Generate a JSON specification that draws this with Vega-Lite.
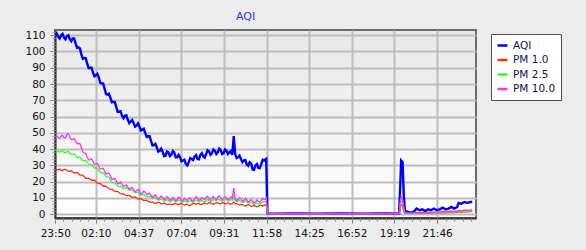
{
  "$schema": "https://vega.github.io/schema/vega-lite/v6.json",
  "width": 421,
  "height": 188,
  "autosize": "none",
  "padding": {"left": 55, "top": 30, "right": 110, "bottom": 32},
  "background": "#ececec",
  "title": {"text": "AQI", "color": "#3030ff", "fontSize": 11, "font": "DejaVu Sans", "fontWeight": "normal", "anchor": "middle", "dx": -20, "offset": 8},
  "config": {
    "font": "DejaVu Sans",
    "view": {"stroke": "#6b6b6b", "strokeWidth": 2, "fill": {"gradient": "linear", "x1": 0, "y1": 0, "x2": 0, "y2": 1, "stops": [{"offset": 0, "color": "#e8e8e8"}, {"offset": 0.6, "color": "#f4f4f4"}, {"offset": 1, "color": "#ffffff"}]}}
  },
  "data": {"values": [
    {"t":0,"aqi":110,"pm1":27.5,"pm25":39,"pm10":47.5},
    {"t":10,"aqi":109,"pm1":27.5,"pm25":38.5,"pm10":47},
    {"t":20,"aqi":110,"pm1":27,"pm25":39,"pm10":48},
    {"t":30,"aqi":108.5,"pm1":27.5,"pm25":38,"pm10":47},
    {"t":40,"aqi":109.5,"pm1":27,"pm25":38.5,"pm10":49},
    {"t":50,"aqi":107.5,"pm1":26.5,"pm25":37.5,"pm10":47.5},
    {"t":60,"aqi":108,"pm1":26,"pm25":37,"pm10":46},
    {"t":70,"aqi":105,"pm1":25.5,"pm25":36,"pm10":45},
    {"t":80,"aqi":102.5,"pm1":25,"pm25":35,"pm10":43.5},
    {"t":90,"aqi":98,"pm1":24,"pm25":34,"pm10":41},
    {"t":100,"aqi":96,"pm1":23,"pm25":33,"pm10":37.5},
    {"t":110,"aqi":92.5,"pm1":22,"pm25":32,"pm10":35},
    {"t":120,"aqi":90,"pm1":21.5,"pm25":30.5,"pm10":33.5},
    {"t":130,"aqi":87,"pm1":21,"pm25":29.5,"pm10":32.5},
    {"t":140,"aqi":85.5,"pm1":20,"pm25":28.5,"pm10":31},
    {"t":150,"aqi":84,"pm1":19,"pm25":27,"pm10":29.5},
    {"t":160,"aqi":80.5,"pm1":18,"pm25":25.5,"pm10":28},
    {"t":170,"aqi":77,"pm1":17.2,"pm25":24.5,"pm10":26.5},
    {"t":180,"aqi":73.5,"pm1":16.5,"pm25":23,"pm10":25},
    {"t":190,"aqi":71.5,"pm1":15.5,"pm25":21,"pm10":23.5},
    {"t":200,"aqi":69,"pm1":14.8,"pm25":19.5,"pm10":21.5},
    {"t":210,"aqi":66,"pm1":14,"pm25":18.5,"pm10":20.5},
    {"t":220,"aqi":63,"pm1":13.2,"pm25":17,"pm10":19},
    {"t":230,"aqi":60.5,"pm1":12.5,"pm25":16.5,"pm10":18.5},
    {"t":240,"aqi":60.5,"pm1":12,"pm25":16,"pm10":17.5},
    {"t":250,"aqi":58,"pm1":11.5,"pm25":15.5,"pm10":16.5},
    {"t":260,"aqi":57,"pm1":11,"pm25":15,"pm10":16},
    {"t":270,"aqi":56,"pm1":10.5,"pm25":14,"pm10":15},
    {"t":280,"aqi":54.5,"pm1":10,"pm25":13.5,"pm10":14.5},
    {"t":290,"aqi":54,"pm1":9.5,"pm25":12.5,"pm10":14},
    {"t":300,"aqi":52,"pm1":9,"pm25":12,"pm10":13},
    {"t":310,"aqi":50,"pm1":8.5,"pm25":11.5,"pm10":13.5},
    {"t":320,"aqi":48,"pm1":8,"pm25":11,"pm10":12.5},
    {"t":330,"aqi":45,"pm1":7.5,"pm25":10.5,"pm10":11.5},
    {"t":340,"aqi":42.5,"pm1":7,"pm25":10,"pm10":11},
    {"t":350,"aqi":41,"pm1":7,"pm25":9.5,"pm10":10.5},
    {"t":360,"aqi":39,"pm1":7,"pm25":9,"pm10":10},
    {"t":370,"aqi":38.5,"pm1":6.5,"pm25":9,"pm10":10.5},
    {"t":380,"aqi":36,"pm1":6.5,"pm25":8.5,"pm10":9.5},
    {"t":390,"aqi":38,"pm1":6,"pm25":8.5,"pm10":10},
    {"t":400,"aqi":36.5,"pm1":6,"pm25":8,"pm10":9},
    {"t":410,"aqi":38,"pm1":6.5,"pm25":8.5,"pm10":9.5},
    {"t":420,"aqi":35,"pm1":6,"pm25":8,"pm10":9},
    {"t":430,"aqi":35,"pm1":6.5,"pm25":8.5,"pm10":10},
    {"t":440,"aqi":33,"pm1":6,"pm25":7.5,"pm10":8.5},
    {"t":450,"aqi":31,"pm1":6,"pm25":8,"pm10":9},
    {"t":460,"aqi":32,"pm1":5.5,"pm25":8,"pm10":9.5},
    {"t":470,"aqi":34,"pm1":6,"pm25":7.5,"pm10":8.5},
    {"t":480,"aqi":35.5,"pm1":6.5,"pm25":8,"pm10":9.5},
    {"t":490,"aqi":34,"pm1":6.5,"pm25":8.5,"pm10":10},
    {"t":500,"aqi":36.5,"pm1":6,"pm25":8,"pm10":9},
    {"t":510,"aqi":35.5,"pm1":6.5,"pm25":8,"pm10":9.5},
    {"t":520,"aqi":37,"pm1":6.5,"pm25":8.5,"pm10":10.5},
    {"t":530,"aqi":38.5,"pm1":7,"pm25":8.5,"pm10":9.5},
    {"t":540,"aqi":37.5,"pm1":6.5,"pm25":8.5,"pm10":10},
    {"t":550,"aqi":39,"pm1":6.5,"pm25":8.5,"pm10":9.5},
    {"t":560,"aqi":38,"pm1":7,"pm25":9,"pm10":10.5},
    {"t":570,"aqi":39.5,"pm1":6.5,"pm25":8.5,"pm10":10},
    {"t":580,"aqi":37.5,"pm1":7,"pm25":8.5,"pm10":9.5},
    {"t":590,"aqi":39,"pm1":6.5,"pm25":9,"pm10":10},
    {"t":600,"aqi":38,"pm1":6.5,"pm25":8.5,"pm10":9.5},
    {"t":610,"aqi":36.5,"pm1":6.5,"pm25":8.5,"pm10":10},
    {"t":615,"aqi":48,"pm1":7.5,"pm25":11,"pm10":16},
    {"t":620,"aqi":37,"pm1":6.5,"pm25":8.5,"pm10":9.5},
    {"t":630,"aqi":35,"pm1":6,"pm25":8,"pm10":9},
    {"t":640,"aqi":34,"pm1":6,"pm25":8,"pm10":9.5},
    {"t":650,"aqi":33,"pm1":5.5,"pm25":7.5,"pm10":8.5},
    {"t":660,"aqi":30.5,"pm1":5.5,"pm25":7.5,"pm10":9},
    {"t":670,"aqi":32,"pm1":5.5,"pm25":7,"pm10":8},
    {"t":680,"aqi":27.5,"pm1":5,"pm25":6.5,"pm10":8},
    {"t":690,"aqi":30,"pm1":5,"pm25":6.5,"pm10":7.5},
    {"t":700,"aqi":28.5,"pm1":5,"pm25":6.5,"pm10":8},
    {"t":710,"aqi":31,"pm1":5.5,"pm25":7,"pm10":8.5},
    {"t":720,"aqi":33,"pm1":5.5,"pm25":7.5,"pm10":9},
    {"t":727,"aqi":34,"pm1":6,"pm25":8,"pm10":10},
    {"t":731,"aqi":0.5,"pm1":0.4,"pm25":0.4,"pm10":0.5},
    {"t":760,"aqi":0.4,"pm1":0.3,"pm25":0.3,"pm10":0.4},
    {"t":820,"aqi":0.5,"pm1":0.3,"pm25":0.4,"pm10":0.4},
    {"t":900,"aqi":0.4,"pm1":0.3,"pm25":0.3,"pm10":0.4},
    {"t":980,"aqi":0.5,"pm1":0.3,"pm25":0.4,"pm10":0.4},
    {"t":1060,"aqi":0.4,"pm1":0.3,"pm25":0.3,"pm10":0.4},
    {"t":1140,"aqi":0.5,"pm1":0.3,"pm25":0.4,"pm10":0.4},
    {"t":1185,"aqi":0.4,"pm1":0.3,"pm25":0.4,"pm10":0.4},
    {"t":1189,"aqi":18,"pm1":4,"pm25":6,"pm10":8},
    {"t":1192,"aqi":33,"pm1":6,"pm25":8,"pm10":11},
    {"t":1197,"aqi":32,"pm1":5,"pm25":7,"pm10":9},
    {"t":1201,"aqi":12,"pm1":2,"pm25":3,"pm10":4},
    {"t":1205,"aqi":2,"pm1":0.6,"pm25":0.8,"pm10":1},
    {"t":1215,"aqi":1.5,"pm1":0.5,"pm25":0.6,"pm10":0.8},
    {"t":1225,"aqi":1,"pm1":0.5,"pm25":0.6,"pm10":0.7},
    {"t":1235,"aqi":1.5,"pm1":0.5,"pm25":0.6,"pm10":0.8},
    {"t":1245,"aqi":3.5,"pm1":0.6,"pm25":0.8,"pm10":1},
    {"t":1255,"aqi":2.5,"pm1":0.6,"pm25":0.8,"pm10":1},
    {"t":1265,"aqi":3,"pm1":0.7,"pm25":0.9,"pm10":1.2},
    {"t":1275,"aqi":2,"pm1":0.6,"pm25":0.8,"pm10":1},
    {"t":1285,"aqi":3,"pm1":0.7,"pm25":1,"pm10":1.3},
    {"t":1295,"aqi":2.5,"pm1":0.7,"pm25":1,"pm10":1.2},
    {"t":1305,"aqi":3.5,"pm1":0.8,"pm25":1.1,"pm10":1.4},
    {"t":1315,"aqi":2.5,"pm1":0.8,"pm25":1,"pm10":1.3},
    {"t":1325,"aqi":3,"pm1":0.9,"pm25":1.2,"pm10":1.5},
    {"t":1335,"aqi":4,"pm1":1,"pm25":1.3,"pm10":1.7},
    {"t":1345,"aqi":3,"pm1":0.9,"pm25":1.2,"pm10":1.5},
    {"t":1355,"aqi":3.5,"pm1":1,"pm25":1.3,"pm10":1.7},
    {"t":1365,"aqi":4.5,"pm1":1.1,"pm25":1.5,"pm10":1.9},
    {"t":1375,"aqi":3.5,"pm1":1,"pm25":1.4,"pm10":1.8},
    {"t":1385,"aqi":4.5,"pm1":1.2,"pm25":1.6,"pm10":2},
    {"t":1390,"aqi":7,"pm1":1.4,"pm25":1.8,"pm10":2.3},
    {"t":1400,"aqi":6.5,"pm1":1.4,"pm25":1.8,"pm10":2.2},
    {"t":1410,"aqi":7.5,"pm1":1.5,"pm25":2,"pm10":2.5},
    {"t":1420,"aqi":7,"pm1":1.5,"pm25":1.9,"pm10":2.4},
    {"t":1430,"aqi":7.5,"pm1":1.6,"pm25":2,"pm10":2.6},
    {"t":1437,"aqi":7.5,"pm1":1.6,"pm25":2.1,"pm10":2.6},
    {"t":5,"aqi":111,"pm1":27.1,"pm25":39.4,"pm10":48.3},
    {"t":15,"aqi":108,"pm1":27.7,"pm25":38.1,"pm10":46.5},
    {"t":25,"aqi":110.8,"pm1":26.9,"pm25":39.1,"pm10":48.5},
    {"t":35,"aqi":107.5,"pm1":27.7,"pm25":37.7,"pm10":47},
    {"t":45,"aqi":110,"pm1":26.4,"pm25":38.6,"pm10":49.3},
    {"t":55,"aqi":106.3,"pm1":26.7,"pm25":36.7,"pm10":45.8},
    {"t":65,"aqi":108,"pm1":25.4,"pm25":37.1,"pm10":46.5},
    {"t":75,"aqi":102.3,"pm1":25.7,"pm25":34.9,"pm10":43.3},
    {"t":85,"aqi":101.8,"pm1":24.1,"pm25":35.1,"pm10":43.3},
    {"t":95,"aqi":95.5,"pm1":23.9,"pm25":32.9,"pm10":38.3},
    {"t":105,"aqi":95.8,"pm1":22.1,"pm25":33.1,"pm10":37.3},
    {"t":115,"aqi":89.8,"pm1":22.1,"pm25":30.7,"pm10":33.3},
    {"t":125,"aqi":90,"pm1":20.9,"pm25":30.6,"pm10":34},
    {"t":135,"aqi":84.8,"pm1":20.9,"pm25":28.4,"pm10":30.8},
    {"t":145,"aqi":86.3,"pm1":19.1,"pm25":28.3,"pm10":31.3},
    {"t":155,"aqi":80.8,"pm1":18.9,"pm25":25.7,"pm10":27.8},
    {"t":165,"aqi":80.3,"pm1":17.2,"pm25":25.6,"pm10":28.3},
    {"t":175,"aqi":73.8,"pm1":17.2,"pm25":23.2,"pm10":24.8},
    {"t":185,"aqi":74,"pm1":15.6,"pm25":22.6,"pm10":25.3},
    {"t":195,"aqi":68.8,"pm1":15.5,"pm25":19.7,"pm10":21.5},
    {"t":205,"aqi":69,"pm1":14,"pm25":19.6,"pm10":22},
    {"t":215,"aqi":63,"pm1":14,"pm25":17.2,"pm10":18.8},
    {"t":225,"aqi":63.3,"pm1":12.5,"pm25":17.3,"pm10":19.8},
    {"t":235,"aqi":59,"pm1":12.6,"pm25":15.7,"pm10":17},
    {"t":245,"aqi":60.8,"pm1":11.4,"pm25":16.3,"pm10":18},
    {"t":255,"aqi":56,"pm1":11.6,"pm25":14.7,"pm10":15.3},
    {"t":265,"aqi":58,"pm1":10.4,"pm25":15.1,"pm10":16.5},
    {"t":275,"aqi":53.8,"pm1":10.6,"pm25":13.2,"pm10":13.8},
    {"t":285,"aqi":55.8,"pm1":9.4,"pm25":13.6,"pm10":15.3},
    {"t":295,"aqi":51.5,"pm1":9.6,"pm25":11.7,"pm10":12.5},
    {"t":305,"aqi":52.5,"pm1":8.4,"pm25":12.3,"pm10":14.3},
    {"t":315,"aqi":47.5,"pm1":8.6,"pm25":10.7,"pm10":12},
    {"t":325,"aqi":48,"pm1":7.4,"pm25":11.3,"pm10":13},
    {"t":335,"aqi":42.3,"pm1":7.6,"pm25":9.7,"pm10":10.3},
    {"t":345,"aqi":43.3,"pm1":6.6,"pm25":10.3,"pm10":11.8},
    {"t":355,"aqi":38.5,"pm1":7.4,"pm25":8.7,"pm10":9.3},
    {"t":365,"aqi":40.3,"pm1":6.4,"pm25":9.6,"pm10":11.3},
    {"t":375,"aqi":35.8,"pm1":6.9,"pm25":8.2,"pm10":9},
    {"t":385,"aqi":38.5,"pm1":5.9,"pm25":9.1,"pm10":10.8},
    {"t":395,"aqi":35.8,"pm1":6.4,"pm25":7.7,"pm10":8.5},
    {"t":405,"aqi":38.8,"pm1":5.9,"pm25":8.8,"pm10":10.3},
    {"t":415,"aqi":35,"pm1":6.6,"pm25":7.7,"pm10":8.3},
    {"t":425,"aqi":36.5,"pm1":5.9,"pm25":8.8,"pm10":10.5},
    {"t":435,"aqi":32.5,"pm1":6.6,"pm25":7.4,"pm10":8.3},
    {"t":445,"aqi":33.5,"pm1":5.6,"pm25":8.3,"pm10":9.8},
    {"t":455,"aqi":30,"pm1":6.1,"pm25":7.4,"pm10":8.3},
    {"t":465,"aqi":34.5,"pm1":5.4,"pm25":8.3,"pm10":10},
    {"t":475,"aqi":33.3,"pm1":6.6,"pm25":7.2,"pm10":8},
    {"t":485,"aqi":36.3,"pm1":6.1,"pm25":8.8,"pm10":10.8},
    {"t":495,"aqi":33.8,"pm1":6.6,"pm25":7.7,"pm10":8.5},
    {"t":505,"aqi":37.5,"pm1":5.9,"pm25":8.6,"pm10":10.3},
    {"t":515,"aqi":34.8,"pm1":6.9,"pm25":7.7,"pm10":9},
    {"t":525,"aqi":39.3,"pm1":6.4,"pm25":9.1,"pm10":11},
    {"t":535,"aqi":36.5,"pm1":7.1,"pm25":7.9,"pm10":8.8},
    {"t":545,"aqi":39.8,"pm1":6.1,"pm25":9.1,"pm10":10.8},
    {"t":555,"aqi":37,"pm1":7.1,"pm25":8.2,"pm10":9},
    {"t":565,"aqi":40.3,"pm1":6.4,"pm25":9.3,"pm10":11.3},
    {"t":575,"aqi":37,"pm1":7.1,"pm25":7.9,"pm10":8.8},
    {"t":585,"aqi":39.8,"pm1":6.4,"pm25":9.3,"pm10":10.8},
    {"t":595,"aqi":37,"pm1":6.9,"pm25":8.2,"pm10":8.8},
    {"t":605,"aqi":38.8,"pm1":6.1,"pm25":9.1,"pm10":10.8},
    {"t":625,"aqi":34.5,"pm1":6.6,"pm25":7.7,"pm10":8.3},
    {"t":635,"aqi":36,"pm1":5.6,"pm25":8.6,"pm10":10.3},
    {"t":645,"aqi":32,"pm1":6.1,"pm25":7.2,"pm10":8},
    {"t":655,"aqi":33.3,"pm1":5.1,"pm25":8.1,"pm10":9.8},
    {"t":665,"aqi":29.8,"pm1":5.9,"pm25":6.7,"pm10":7.5},
    {"t":675,"aqi":31.3,"pm1":4.9,"pm25":7.3,"pm10":9},
    {"t":685,"aqi":27.3,"pm1":5.4,"pm25":5.9,"pm10":6.8},
    {"t":695,"aqi":30.8,"pm1":4.6,"pm25":7.1,"pm10":8.8},
    {"t":705,"aqi":28.3,"pm1":5.6,"pm25":6.2,"pm10":7.3},
    {"t":715,"aqi":33.5,"pm1":5.1,"pm25":7.8,"pm10":9.8}
  ]},
  "transform": [{"fold": ["aqi", "pm1", "pm25", "pm10"], "as": ["series", "value"]}],
  "encoding": {
    "color": {
      "field": "series", "type": "nominal",
      "scale": {"domain": ["aqi", "pm1", "pm25", "pm10"], "range": ["#0000ff", "#ff3020", "#30ff30", "#ff30ff"]},
      "legend": {
        "title": null, "orient": "none", "legendX": 436, "legendY": 4,
        "fillColor": "#ffffff", "strokeColor": "#505050", "padding": 5,
        "symbolType": "stroke", "symbolStrokeWidth": 2.5, "symbolSize": 100,
        "labelFont": "DejaVu Sans", "labelFontSize": 10.5, "labelColor": "#14144a", "rowPadding": 2.5,
        "labelExpr": "{'aqi': 'AQI', 'pm1': 'PM 1.0', 'pm25': 'PM 2.5', 'pm10': 'PM 10.0'}[datum.label]"
      }
    }
  },
  "layer": [
    {
      "transform": [{"filter": "datum.series === 'aqi'"}],
      "mark": {"type": "line", "strokeWidth": 2.4, "clip": true},
      "encoding": {
        "x": {
          "field": "t", "type": "quantitative",
          "scale": {"domain": [-1, 1450], "nice": false, "zero": false},
          "axis": {
            "orient": "bottom",
            "values": [0, 140, 287, 434, 581, 728, 875, 1022, 1169, 1316],
            "labelExpr": "timeFormat(datetime(2020, 0, 1, 23, 50 + datum.value), '%H:%M')",
            "title": null, "grid": true, "gridColor": "#bdbdbd", "gridWidth": 2,
            "domainColor": "#333333", "domainWidth": 2, "tickColor": "#777777", "tickSize": 5,
            "labelFont": "DejaVu Sans", "labelFontSize": 10.5, "labelColor": "#111111", "labelPadding": 5,
            "labelFlush": false, "labelOverlap": false
          }
        },
        "y": {
          "field": "value", "type": "quantitative",
          "scale": {"domain": [-2.3, 113.2], "nice": false, "zero": false},
          "axis": {
            "orient": "left",
            "values": [0, 10, 20, 30, 40, 50, 60, 70, 80, 90, 100, 110],
            "title": null, "grid": true, "gridColor": "#bdbdbd", "gridWidth": 2,
            "domainColor": "#333333", "domainWidth": 2, "tickColor": "#777777", "tickSize": 5,
            "labelFont": "DejaVu Sans", "labelFontSize": 10.5, "labelColor": "#111111", "labelPadding": 5,
            "labelOverlap": false
          }
        }
      }
    },
    {
      "transform": [{"filter": "datum.series !== 'aqi'"}],
      "mark": {"type": "line", "strokeWidth": 1.3, "clip": true},
      "encoding": {
        "x": {
          "field": "t", "type": "quantitative",
          "axis": {
            "orient": "bottom",
            "values": [0, 28, 56, 84, 112, 140, 169.4, 198.8, 228.2, 257.6, 287, 316.4, 345.8, 375.2, 404.6, 434, 463.4, 492.8, 522.2, 551.6, 581, 610.4, 639.8, 669.2, 698.6, 728, 757.4, 786.8, 816.2, 845.6, 875, 904.4, 933.8, 963.2, 992.6, 1022, 1051.4, 1080.8, 1110.2, 1139.6, 1169, 1198.4, 1227.8, 1257.2, 1286.6, 1316, 1345.4, 1374.8, 1404.2, 1433.6],
            "title": null, "grid": false, "domain": false, "labels": false,
            "tickColor": "#8a8a8a", "tickSize": 3
          }
        },
        "y": {
          "field": "value", "type": "quantitative",
          "axis": {
            "orient": "left",
            "values": [0, 2, 4, 6, 8, 10, 12, 14, 16, 18, 20, 22, 24, 26, 28, 30, 32, 34, 36, 38, 40, 42, 44, 46, 48, 50, 52, 54, 56, 58, 60, 62, 64, 66, 68, 70, 72, 74, 76, 78, 80, 82, 84, 86, 88, 90, 92, 94, 96, 98, 100, 102, 104, 106, 108, 110, 112],
            "title": null, "grid": false, "domain": false, "labels": false,
            "tickColor": "#9a9a9a", "tickSize": 3
          }
        }
      }
    }
  ],
  "resolve": {"axis": {"x": "independent", "y": "independent"}}
}
